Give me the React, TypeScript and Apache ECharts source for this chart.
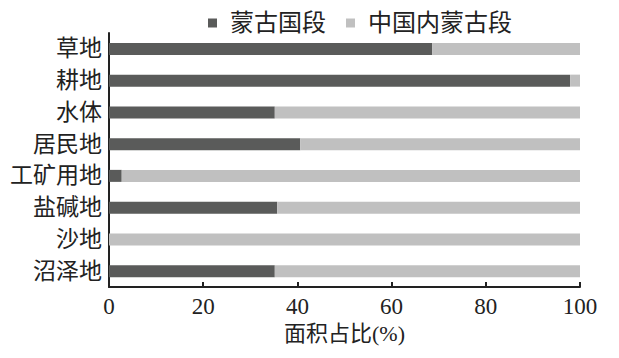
import React, { useEffect, useRef } from "react";
import * as echarts from "echarts";

const categories = ["草地", "耕地", "水体", "居民地", "工矿用地", "盐碱地", "沙地", "沼泽地"];
const mongolia = [68.6, 97.9, 35.2, 40.6, 2.7, 35.7, 0, 35.2];
const innerMongolia = [31.4, 2.1, 64.8, 59.4, 97.3, 64.3, 100, 64.8];
const seriesNames = ["蒙古国段", "中国内蒙古段"];
const xTicks = [0, 20, 40, 60, 80, 100];

export default function App() {
  const ref = useRef<HTMLDivElement>(null);
  useEffect(() => {
    if (!ref.current) return;
    const chart = echarts.init(ref.current, null, { renderer: "svg" });
    const cats = [...categories].reverse();
    const m = [...mongolia].reverse();
    const im = [...innerMongolia].reverse();
    const serif = "'Liberation Serif', 'Times New Roman', 'Noto Sans CJK SC', serif";
    chart.setOption({
      animation: false,
      backgroundColor: "#ffffff",
      legend: {
        top: 6,
        left: 203,
        itemWidth: 9,
        itemHeight: 9,
        itemGap: 20,
        icon: "rect",
        textStyle: { fontFamily: serif, fontSize: 24, color: "#222", padding: [0, 0, 0, 8] },
        data: seriesNames,
      },
      grid: { left: 109, right: 39, top: 33, bottom: 71, containLabel: false },
      xAxis: {
        type: "value",
        min: 0,
        max: 100,
        interval: 20,
        name: "面积占比(%)",
        nameLocation: "middle",
        nameGap: 34,
        nameTextStyle: { fontFamily: serif, fontSize: 22, color: "#222" },
        axisLine: { show: true, lineStyle: { color: "#222", width: 2 } },
        axisTick: { show: true, inside: true, length: 5, lineStyle: { color: "#222", width: 2 } },
        axisLabel: {
          fontFamily: serif,
          fontSize: 23,
          color: "#222",
          margin: 8,
          formatter: (v: number) => (xTicks.includes(v) ? String(v) : ""),
        },
        splitLine: { show: false },
      },
      yAxis: {
        type: "category",
        data: cats,
        axisLine: { show: true, lineStyle: { color: "#222", width: 2 } },
        axisTick: { show: false },
        axisLabel: { fontFamily: serif, fontSize: 23, color: "#222", margin: 7 },
      },
      series: [
        {
          name: seriesNames[0],
          type: "bar",
          stack: "total",
          barWidth: 12,
          data: m,
          itemStyle: { color: "#5a5b5a" },
        },
        {
          name: seriesNames[1],
          type: "bar",
          stack: "total",
          barWidth: 12,
          data: im,
          itemStyle: { color: "#c0c0c0" },
        },
      ],
    });
    return () => chart.dispose();
  }, []);
  return <div ref={ref} style={{ width: 619, height: 358, margin: -8 }} />;
}
